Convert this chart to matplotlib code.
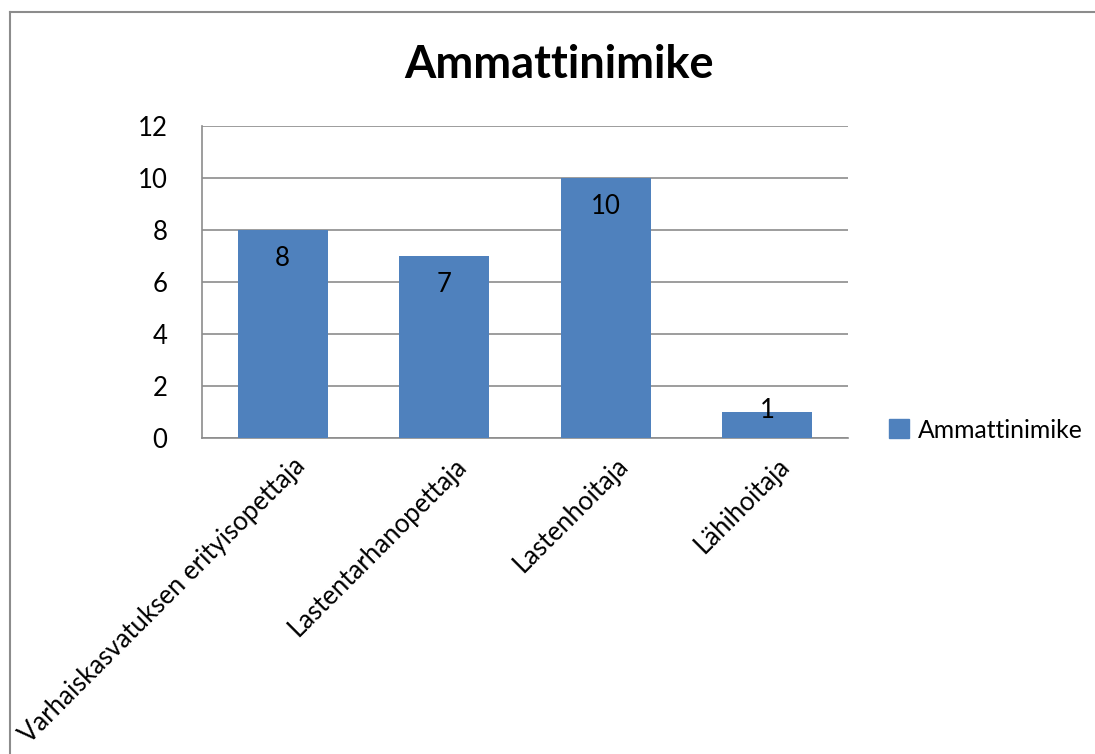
import matplotlib.pyplot as plt
from matplotlib.lines import Line2D
from matplotlib.patches import Patch
import numpy as np

plt.rcParams['font.family'] = ['Lato', 'DejaVu Sans']

categories = ["Varhaiskasvatuksen erityisopettaja",
              "Lastentarhanopettaja",
              "Lastenhoitaja",
              "Lähihoitaja"]
values = [8, 7, 10, 1]
series_name = "Ammattinimike"
title = "Ammattinimike"

bar_color = '#4F81BD'
grid_color = '#8C8C8C'
fs = 18.5

fig = plt.figure(figsize=(10.95, 7.54), dpi=100)
ax = fig.add_axes([202 / 1095, 1 - 438 / 754, 646 / 1095, 312 / 754])

ind = np.arange(len(categories))
bars = ax.bar(ind, values, 0.56, color=bar_color, zorder=3)

ax.set_xlim(-0.5, len(categories) - 0.5)
ax.set_ylim(0, 12)
ax.set_yticks(np.arange(0, 13, 2))
ax.yaxis.grid(True, color=grid_color, linewidth=1.2, zorder=0)
for s in ['top', 'right']:
    ax.spines[s].set_visible(False)
for s in ['left', 'bottom']:
    ax.spines[s].set_color(grid_color)
    ax.spines[s].set_linewidth(1.2)
ax.tick_params(axis='y', length=0, pad=25, labelsize=fs)
ax.tick_params(axis='x', length=0, pad=11, labelsize=fs)
ax.set_xticks(ind + 0.06)
ax.set_xticklabels(categories, rotation=45, ha='right', rotation_mode='anchor')

# data labels
for i, v in enumerate(values):
    y = v - 1.1 if v > 2 else v + 0.05
    ax.text(i, y, str(v), ha='center', va='center', fontsize=fs, zorder=4)

fig.text(559 / 1095, 1 - 65 / 754, title, ha='center', va='center',
         fontsize=32.5, fontweight='bold')

ax.legend([Patch(color=bar_color)], [series_name], loc='center left',
          bbox_to_anchor=(889 / 1095, 1 - 430 / 754), bbox_transform=fig.transFigure,
          frameon=False, fontsize=17.8, handlelength=0.8, handleheight=0.8,
          handletextpad=0.35, borderpad=0, borderaxespad=0)

# outer chart border (cropped: only left and top edges visible)
fig.add_artist(Line2D([10 / 1095, 10 / 1095], [0, 1 - 12 / 754],
                      transform=fig.transFigure, color='#8C8C8C', linewidth=1.5))
fig.add_artist(Line2D([10 / 1095, 1], [1 - 12 / 754, 1 - 12 / 754],
                      transform=fig.transFigure, color='#8C8C8C', linewidth=1.5))

fig.savefig('out.png', dpi=100)
